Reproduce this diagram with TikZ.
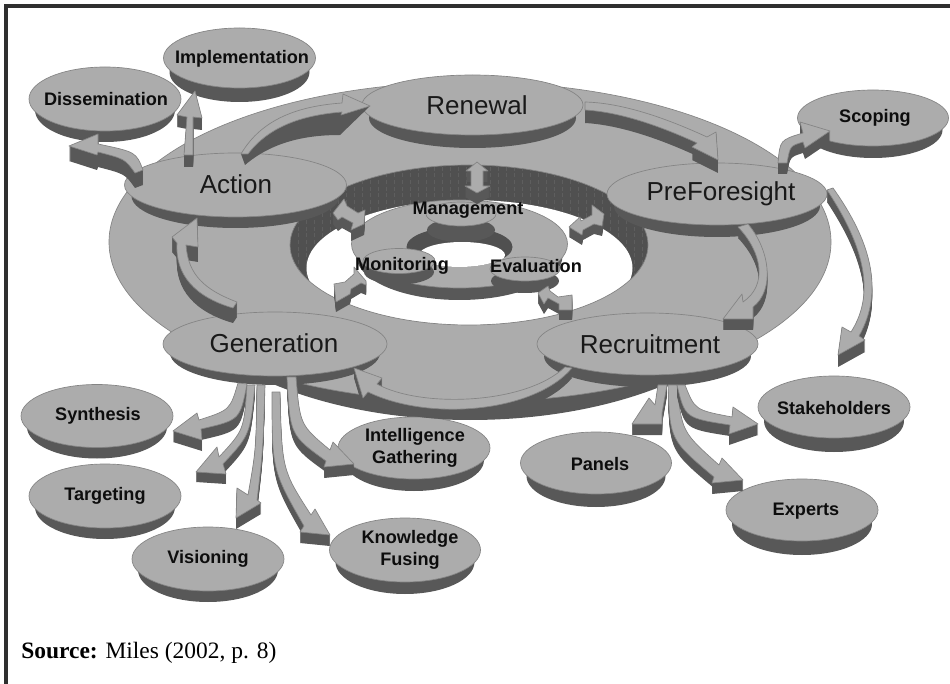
\documentclass[tikz,border=0pt]{standalone}
\usepackage{fontspec}
\setmainfont{Liberation Sans}
\newfontfamily\srcfont{Liberation Serif}
\usetikzlibrary{shapes.geometric}
\definecolor{topc}{HTML}{ACACAC}
\definecolor{edgec}{HTML}{848484}
\definecolor{sidec}{HTML}{585858}
\definecolor{wallc}{HTML}{505050}
\definecolor{stripec}{HTML}{5E5E5E}
\definecolor{framec}{HTML}{2F2F2F}
\tikzset{
  topface/.style={fill=topc,draw=edgec,line width=0.5pt,line join=round},
  sideface/.style={fill=sidec},
  diskface/.style={ellipse,inner sep=0pt,fill=topc,draw=edgec,line width=0.5pt},
  biglabel/.style={font=\fontsize{19.5pt}{22pt}\selectfont,text=black!90,inner sep=0pt},
  smalllabel/.style={font=\fontsize{13.6pt}{16.5pt}\selectfont\bfseries,text=black!95,inner sep=0pt,align=center},
}
% name, cx, cy, rx, ry, depth below the top face, side inset
\newcommand{\disk}[7]{%
  \fill[sideface] (#2,#3+#6) ellipse [x radius=#4-#7,y radius=#5];
  \node[diskface,minimum width={(2*#4)*0.75pt},minimum height={(2*#5)*0.75pt}] (#1) at (#2,#3) {};
}
% extruded solid: depth, closed path
\newcommand{\solid}[2]{%
  \foreach \k in {#1,...,1}{\fill[sideface,shift={(0,\k)}] #2;}
  \draw[topface] #2;
}
\begin{document}
\begin{tikzpicture}[x=0.75pt,y=-0.75pt]
\useasboundingbox (0,0) rectangle (950,684);
\fill[white] (0,0) rectangle (950,684);
\draw[framec,line width=2.6pt,line join=miter] (6,684) -- (6,6) -- (950,6);

% main ring
\fill[sideface] (470,262) ellipse [x radius=310,y radius=158];
\draw[topface] (470,242) ellipse [x radius=361,y radius=160];
\fill[wallc] (469,245) ellipse [x radius=179,y radius=80];
\begin{scope}
  \clip (469,245) ellipse [x radius=179,y radius=80];
  \foreach \sx in {290,298,...,650}{\draw[stripec,line width=0.4pt,dash pattern=on 3pt off 2pt] (\sx,160) -- (\sx,290);}
  \fill[white] (469.5,268) ellipse [x radius=163,y radius=68];
\end{scope}
\draw[edgec,line width=0.5pt] (469,245) ellipse [x radius=179,y radius=80];

% inner ring
\fill[sideface] (459.5,256) ellipse [x radius=103,y radius=44];
\draw[topface] (459.5,244) ellipse [x radius=108,y radius=44];
\fill[wallc] (459.5,247) ellipse [x radius=53,y radius=20];
\begin{scope}
  \clip (459.5,247) ellipse [x radius=53,y radius=20];
  \fill[white] (462,255) ellipse [x radius=43,y radius=13];
\end{scope}

% small disks on the inner ring
\disk{mgmt}{461}{214}{35}{12}{16}{1}
\disk{monit}{399}{261}{36}{12.5}{11}{1}
\disk{eval}{525}{269}{35}{12}{12}{1}

% stage disks
\disk{renewal}{472.5}{105}{110.5}{30}{13}{7}
\disk{action}{235.5}{185}{111}{32}{11}{7}
\disk{prefore}{717}{194}{110}{31}{12}{7}
\disk{generation}{275}{344}{112}{32}{9}{7}
\disk{recruit}{647.5}{344}{110.5}{31}{12}{7}

% outcome disks
\disk{implem}{239.5}{58}{76}{30}{14}{6}
\disk{dissem}{105}{99}{76}{32}{11}{6}
\disk{scoping}{873}{118}{75.5}{28}{12}{6}
\disk{synth}{97}{416}{76}{31.5}{11}{6}
\disk{target}{105}{496}{76}{32}{11}{6}
\disk{vision}{208}{559}{76}{32}{11}{6}
\disk{knowl}{405}{550}{75.5}{32}{12}{6}
\disk{intel}{414}{448}{76}{31}{12}{6}
\disk{stake}{834}{407}{76}{31}{14}{6}
\disk{panels}{596}{463}{75.5}{31}{13}{6}
\disk{experts}{802}{510}{76}{31}{14}{6}

% double arrows around the centre
\solid{11}{(477,162) -- (488,171) -- (483,171) -- (483,186) -- (490,186) -- (477,193) -- (465,186) -- (471,186) -- (471,171) -- (466,171) -- cycle}
\solid{11}{(333,213) -- (344,199) -- (347,206) -- (358,213) -- (365,210) -- (364,224) -- (351,230) -- (353,223) -- (342,217) -- (338,220) -- cycle}
\solid{10}{(569,227) -- (580,217) -- (581,221) -- (592,215) -- (592,205) -- (604,214) -- (602,226) -- (594,224) -- (583,230) -- (582,235) -- cycle}
\solid{10}{(366,281) -- (354,267) -- (354,274) -- (345,282) -- (334,284) -- (336,302) -- (350,294) -- (351,289) -- (361,283) -- (366,285) -- cycle}
\solid{10}{(538,293) -- (548,286) -- (550,291) -- (558,297) -- (572,295) -- (572,310) -- (559,310) -- (559,304) -- (548,298) -- (544,304) -- cycle}

% cycle arrows
\fill[sideface] (248,154) .. controls (270,125) and (305,115) .. (342,112) -- (341,115) -- (370,106) -- (340,135) .. controls (305,135) and (272,142) .. (245,165) -- (241,154) -- cycle;
\draw[topface] (241,154) .. controls (262,118) and (300,106) .. (342,103) -- (343,94) -- (370,106) -- (341,115) -- (342,112) .. controls (305,115) and (270,125) .. (248,154) -- cycle;
\solid{13}{(585,102) .. controls (625,103) and (670,120) .. (707,137) -- (716,132) -- (718,160) -- (692,147) -- (697,143) .. controls (660,126) and (620,112) .. (585,110) -- cycle}
\solid{11}{(778,163) .. controls (780,140) .. (803,133) -- (800,122) -- (830,131) -- (805,148) -- (803,142) .. controls (790,146) .. (787,163) -- cycle}
\solid{15}{(143,170) .. controls (136,152) .. (98,144) -- (98,134) -- (69,146) -- (97,155) -- (98,152) .. controls (125,159) .. (135,173) -- cycle}
\solid{12}{(184,155) -- (187,117) -- (177,115) -- (195,91) -- (202,118) -- (193,117) -- (193,155) -- cycle}
\solid{15}{(237,302) .. controls (205,290) and (188,275) .. (186,245) -- (198,247) -- (197,218) -- (172,237) -- (177,243) .. controls (175,275) and (195,297) .. (233,308) -- cycle}
\solid{11}{(738,227) .. controls (762,252) and (768,285) .. (743,302) -- (742,294) -- (723,319) -- (753,319) -- (753,307) .. controls (775,290) and (770,250) .. (748,224) -- cycle}
\solid{12}{(827,190) .. controls (860,240) and (878,290) .. (851,332) -- (842,327) -- (838,355) -- (865,340) -- (859,336) .. controls (885,290) and (870,240) .. (833,188) -- cycle}
\solid{10}{(572,368) .. controls (535,412) and (430,422) .. (368,392) -- (363,398) -- (354,368) -- (382,378) -- (377,384) .. controls (420,408) and (525,405) .. (565,367) -- cycle}

% generation arrows
\solid{11}{(238,383) .. controls (230,410) .. (199,420) -- (197,413) -- (173,431) -- (202,440) -- (201,429) .. controls (240,420) .. (247,384) -- cycle}
\solid{10}{(247,385) .. controls (244,430) .. (219,457) -- (217,447) -- (196,472) -- (226,474) -- (223,464) .. controls (250,435) .. (255,385) -- cycle}
\solid{11}{(257,385) .. controls (256,450) .. (248,495) -- (237,488) -- (236,518) -- (261,503) -- (257,500) .. controls (263,450) .. (265,385) -- cycle}
\solid{11}{(272,392) .. controls (272,470) .. (304,526) -- (300,532) -- (330,535) -- (315,509) -- (311,515) .. controls (282,470) .. (280,392) -- cycle}
\solid{11}{(287,377) .. controls (290,435) .. (326,461) -- (324,467) -- (354,464) -- (333,442) -- (330,450) .. controls (300,425) .. (296,377) -- cycle}

% recruitment arrows
\solid{11}{(658,385) -- (655,405) -- (649,398) -- (632,424) -- (662,424) -- (662,413) -- (667,385) -- cycle}
\solid{11}{(668,385) .. controls (670,440) .. (714,477) -- (712,483) -- (743,480) -- (722,458) -- (719,465) .. controls (682,432) .. (677,385) -- cycle}
\solid{11}{(677,385) .. controls (685,418) .. (730,425) -- (729,434) -- (758,424) -- (733,407) -- (732,417) .. controls (695,410) .. (685,385) -- cycle}

% labels
\node[biglabel] (renewal-l) at (477,105) {Renewal};
\node[biglabel] (action-l) at (236,184) {Action};
\node[biglabel] (prefore-l) at (721,194) {PreForesight};
\node[biglabel] (generation-l) at (274,343) {Generation};
\node[biglabel] (recruit-l) at (650,344) {Recruitment};
\node[smalllabel] (implem-l) at (242,59) {Implementation};
\node[smalllabel] (dissem-l) at (106,99) {Dissemination};
\node[smalllabel] (scoping-l) at (875,118) {Scoping};
\node[smalllabel] (synth-l) at (98,416) {Synthesis};
\node[smalllabel] (target-l) at (105,496) {Targeting};
\node[smalllabel] (vision-l) at (208,559) {Visioning};
\node[smalllabel] (knowl-l) at (410,550) {Knowledge\\Fusing};
\node[smalllabel] (intel-l) at (415,448) {Intelligence\\Gathering};
\node[smalllabel] (stake-l) at (834,408) {Stakeholders};
\node[smalllabel] (panels-l) at (600,464) {Panels};
\node[smalllabel] (experts-l) at (806,511) {Experts};
\node[smalllabel] (mgmt-l) at (468,210) {Management};
\node[smalllabel] (monit-l) at (402,266) {Monitoring};
\node[smalllabel] (eval-l) at (536,266) {Evaluation};
\node[anchor=base west,inner sep=0pt,font=\srcfont\fontsize{17.6pt}{20pt}\selectfont] (source) at (21,658) {\textbf{Source:} Miles (2002, p. 8)};
\end{tikzpicture}
\end{document}
